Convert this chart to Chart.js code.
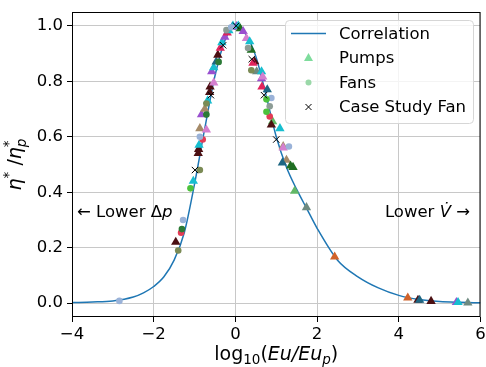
<!DOCTYPE html>
<html>
<head>
<meta charset="utf-8">
<script src="https://cdn.jsdelivr.net/npm/chart.js@4/dist/chart.umd.min.js"></script>
<style>
  html, body { margin: 0; padding: 0; background: #fff; }
  #wrap { width: 486px; height: 367px; }
</style>
</head>
<body>
<div id="wrap"><canvas id="c" width="486" height="367"></canvas></div>
<script>
// correlation curve
const curveX = [-4, -3.5, -3, -2.5, -2.25, -2, -1.75, -1.5, -1.25, -1, -0.75, -0.5, -0.25, 0,
  0.25, 0.5, 0.75, 1, 1.25, 1.5, 1.75, 2, 2.5, 3, 3.5, 4, 4.5, 5, 5.5, 6];
const curveY = [0.002, 0.004, 0.008, 0.022, 0.037, 0.06, 0.095, 0.155, 0.255, 0.43, 0.63, 0.82, 0.95, 1.0,
  0.97, 0.89, 0.75, 0.60, 0.49, 0.41, 0.34, 0.27, 0.155, 0.095, 0.055, 0.028, 0.013, 0.006, 0.003, 0.001];

// pumps (triangles)
const pumpX = [-1.46, -1.03, -0.91, -0.90, -0.89, -0.87, -0.71, -0.83, -0.75, -0.68, -0.63, -0.62, -0.53, -0.58,
  -0.53, -0.47, -0.43, -0.37, -0.33, -0.26, -0.20, -0.16, -0.08, -0.06, 0.03, 0.07, 0.12, 0.19, 0.27, 0.35,
  0.39, 0.47, 0.43, 0.52, 0.64, 0.64, 0.67, 0.65, 0.78, 0.91, 0.88, 1.09, 1.17, 1.17, 1.25, 1.15, 1.41, 1.35,
  1.45, 1.74, 2.43, 4.22, 4.47, 4.51, 4.79, 5.41, 5.45, 5.69];
const pumpY = [0.22, 0.44, 0.54, 0.555, 0.57, 0.63, 0.625, 0.68, 0.70, 0.73, 0.76, 0.78, 0.795, 0.835,
  0.85, 0.87, 0.895, 0.92, 0.94, 0.96, 0.975, 0.983, 0.995, 1.0, 0.998, 1.0, 0.99, 0.98, 0.955, 0.943,
  0.913, 0.871, 0.866, 0.835, 0.835, 0.81, 0.816, 0.78, 0.77, 0.655, 0.643, 0.63, 0.565, 0.56, 0.516, 0.506, 0.49, 0.495,
  0.404, 0.345, 0.167, 0.019, 0.011, 0.011, 0.007, 0.003, 0.003, 0.001];

// fans (circles)
const fanX = [-2.84, -1.40, -1.33, -1.31, -1.28, -1.10, -0.87, -0.80, -0.87, -0.71, -0.71, -0.41, -0.22, -0.10,
  0.31, 0.39, 0.88, 0.76, 0.84, 0.84, 0.76, 1.31];
const fanY = [0.008, 0.19, 0.254, 0.267, 0.30, 0.414, 0.48, 0.59, 0.60, 0.68, 0.72, 0.87, 0.985, 0.995,
  0.92, 0.84, 0.74, 0.735, 0.71, 0.673, 0.69, 0.565];

// case study fan (crosses)
const caseX = [-0.99, -0.60, -0.30, 0.02, 0.40, 0.70, 1.00];
const caseY = [0.48, 0.75, 0.93, 1.0, 0.88, 0.75, 0.59];

const xTicks = [-4, -2, 0, 2, 4, 6];
const yTicks = [0, 0.2, 0.4, 0.6, 0.8, 1.0];

// colours per marker
const C = {
  cyan: '#17becf', maroon: '#4b0f12', purple: '#9a4fcf', pink: '#d57fcf', tan: '#a58a68', teal: '#1d6682',
  dgreen: '#1f6e22', orange: '#d0622a', grey: '#6e8a80', crimson: '#e0245c', green: '#62b866',
  gblue: '#9ab2d8', olive: '#7b8b55', fcrim: '#e43b55', fdg: '#2b7a36', bgreen: '#4cc23c', fgrey: '#8d9c96'
};
const pumpColors = ['maroon', 'cyan', 'maroon', 'maroon', 'cyan', 'tan', 'pink', 'purple', 'tan', 'cyan', 'maroon', 'maroon', 'pink', 'purple',
  'cyan', 'teal', 'maroon', 'crimson', 'cyan', 'purple', 'crimson', 'cyan', 'purple', 'cyan', 'purple', 'cyan', 'dgreen', 'purple', 'pink', 'cyan',
  'dgreen', 'maroon', 'crimson', 'grey', 'cyan', 'purple', 'pink', 'crimson', 'teal', 'green', 'maroon', 'cyan', 'tan', 'pink', 'tan', 'teal', 'dgreen', 'dgreen',
  'green', 'grey', 'orange', 'orange', 'maroon', 'teal', 'maroon', 'purple', 'cyan', 'grey'].map(k => C[k]);
const fanColors = ['gblue', 'olive', 'fcrim', 'fdg', 'gblue', 'bgreen', 'olive', 'fcrim', 'gblue', 'fdg', 'olive', 'fdg', 'fgrey', 'gblue',
  'fgrey', 'olive', 'gblue', 'bgreen', 'fgrey', 'fcrim', 'bgreen', 'gblue'].map(k => C[k]);

const pts = (xs, ys) => xs.map((x, i) => ({ x, y: ys[i] }));
const FONT = 'DejaVu Sans';

// draw a row of text pieces with their own fonts / offsets
function runs(ctx, parts, x, y, align) {
  let w = 0;
  parts.forEach(p => { ctx.font = p.f; p.w = p.stack ? 0 : ctx.measureText(p.t).width; w += p.w; });
  let cx = align === 'center' ? x - w / 2 : align === 'right' ? x - w : x;
  parts.forEach(p => {
    ctx.font = p.f;
    ctx.fillText(p.t, cx, y + (p.dy || 0));
    cx += p.w;
  });
}

const decor = {
  id: 'decor',
  afterDatasetsDraw(chart) {
    const { ctx, chartArea: a } = chart;
    ctx.save();
    ctx.strokeStyle = '#000'; ctx.lineWidth = 1;
    ctx.strokeRect(a.left + 0.5, a.top + 0.5, a.width - 1, a.height - 1);

    // annotations
    ctx.fillStyle = '#000'; ctx.textBaseline = 'middle';
    runs(ctx, [{ t: '\u2190 Lower \u0394', f: `16.5px "${FONT}"` }, { t: 'p', f: `italic 16.5px "${FONT}"` }], 77, 213, 'left');
    runs(ctx, [{ t: 'Lower ', f: `16.5px "${FONT}"` }, { t: 'V\u0307', f: `italic 16.5px "${FONT}"` }, { t: ' \u2192', f: `16.5px "${FONT}"` }], 470, 213, 'right');

    // legend
    const lx = 285, ly = 20, lw = 188, lh = 103;
    ctx.beginPath();
    ctx.roundRect(lx + 0.5, ly + 0.5, lw, lh, 4);
    ctx.fillStyle = 'rgba(255,255,255,0.8)'; ctx.fill();
    ctx.strokeStyle = '#d6d6d6'; ctx.stroke();
    const rows = [33.5, 58, 82.5, 107];
    ctx.strokeStyle = '#1f77b4'; ctx.lineWidth = 1.5;
    ctx.beginPath(); ctx.moveTo(291, rows[0]); ctx.lineTo(326, rows[0]); ctx.stroke();
    ctx.fillStyle = '#7edc9c';
    ctx.beginPath(); ctx.moveTo(308.5, rows[1] - 5); ctx.lineTo(313, rows[1] + 3); ctx.lineTo(304, rows[1] + 3); ctx.closePath(); ctx.fill();
    ctx.fillStyle = '#9ad8a8';
    ctx.beginPath(); ctx.arc(308.5, rows[2], 3, 0, Math.PI * 2); ctx.fill();
    ctx.strokeStyle = '#000'; ctx.lineWidth = 1;
    ctx.beginPath(); ctx.moveTo(305.5, rows[3] - 3); ctx.lineTo(311.5, rows[3] + 3); ctx.moveTo(311.5, rows[3] - 3); ctx.lineTo(305.5, rows[3] + 3); ctx.stroke();
    ctx.fillStyle = '#000'; ctx.font = `16.5px "${FONT}"`; ctx.textAlign = 'left';
    ['Correlation', 'Pumps', 'Fans', 'Case Study Fan'].forEach((t, i) => ctx.fillText(t, 339, rows[i] + 1));

    // axis titles
    ctx.textBaseline = 'alphabetic';
    const big = `19px "${FONT}"`, bigI = `italic 19px "${FONT}"`, sm = `13.5px "${FONT}"`, smI = `italic 13.5px "${FONT}"`;
    runs(ctx, [{ t: 'log', f: big }, { t: '10', f: sm, dy: 4 }, { t: '(', f: big }, { t: 'Eu/Eu', f: bigI }, { t: 'p', f: smI, dy: 4 }, { t: ')', f: big }],
      (a.left + a.right) / 2, 360, 'center');
    ctx.save();
    ctx.translate(21, (a.top + a.bottom) / 2);
    ctx.rotate(-Math.PI / 2);
    runs(ctx, [{ t: '\u03b7', f: bigI }, { t: '*', f: sm, dy: -8 }, { t: ' /', f: big }, { t: '\u03b7', f: bigI },
      { t: '*', f: sm, dy: -8, stack: true }, { t: 'p', f: smI, dy: 5 }], 0, 0, 'center');
    ctx.restore();
    ctx.restore();
  }
};

const tickFont = { family: FONT, size: 16.5 };
new Chart(document.getElementById('c'), {
  type: 'scatter',
  data: {
    datasets: [
      { label: 'Case Study Fan', data: pts(caseX, caseY), pointStyle: 'crossRot', pointRadius: 4.5, borderColor: '#000', borderWidth: 1, order: 0 },
      { label: 'Fans', data: pts(fanX, fanY), pointStyle: 'circle', pointRadius: 3.3, backgroundColor: fanColors, borderWidth: 0, order: 1 },
      { label: 'Pumps', data: pts(pumpX, pumpY), pointStyle: 'triangle', pointRadius: 5.4, backgroundColor: pumpColors, borderWidth: 0, order: 2 },
      { label: 'Correlation', data: pts(curveX, curveY), showLine: true, pointRadius: 0, borderColor: '#1f77b4', borderWidth: 1.5,
        cubicInterpolationMode: 'monotone', fill: false, order: 3 },
    ],
  },
  options: {
    responsive: false, animation: false, devicePixelRatio: 1,
    layout: { padding: { top: 12, right: 5, left: 0, bottom: 0 } },
    plugins: { legend: { display: false }, tooltip: { enabled: false } },
    scales: {
      x: {
        type: 'linear', min: -4, max: 6,
        afterBuildTicks: s => { s.ticks = xTicks.map(v => ({ value: v })); },
        afterFit: s => { s.height = 50; s.paddingLeft = 0; s.paddingRight = 0; },
        ticks: { font: tickFont, color: '#000', padding: 3, autoSkip: false, maxRotation: 0,
          callback: v => v < 0 ? '\u2212' + Math.abs(v) : String(v) },
        grid: { color: '#c8c8c8', lineWidth: 1, tickColor: '#000', tickLength: 5 },
        border: { display: false },
      },
      y: {
        type: 'linear', min: -0.05, max: 1.05,
        afterBuildTicks: s => { s.ticks = yTicks.map(v => ({ value: v })); },
        afterFit: s => { s.width = 72; s.paddingTop = 0; s.paddingBottom = 0; },
        ticks: { font: tickFont, color: '#000', padding: 4, autoSkip: false, callback: v => v.toFixed(1) },
        grid: { color: '#c8c8c8', lineWidth: 1, tickColor: '#000', tickLength: 5 },
        border: { display: false },
      },
    },
  },
  plugins: [decor],
});
</script>
</body>
</html>
